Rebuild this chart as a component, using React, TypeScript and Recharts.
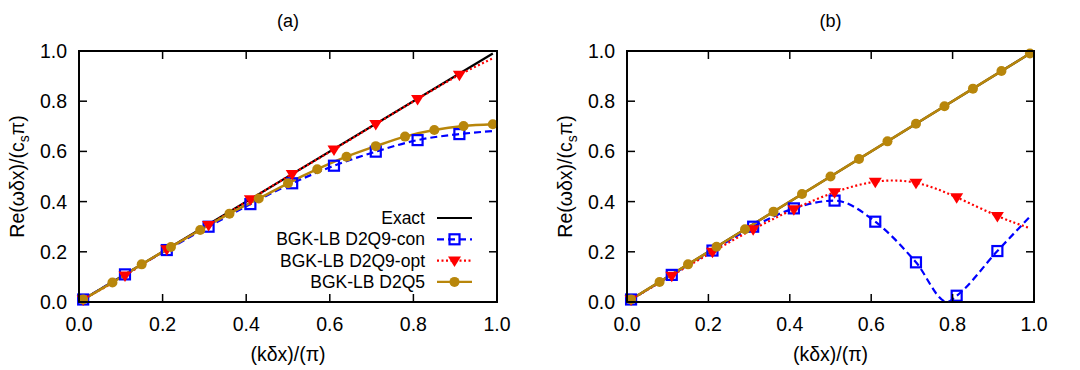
import {
  LineChart,
  Line,
  XAxis,
  YAxis,
  ReferenceArea,
  Legend,
} from "recharts";

// x positions where the markers sit
const conOptX = [0.01, 0.11, 0.21, 0.31, 0.41, 0.51, 0.61, 0.71, 0.81, 0.91];
const d2q5X = [0.01, 0.08, 0.15, 0.22, 0.29, 0.36, 0.43, 0.5, 0.57, 0.64, 0.71, 0.78, 0.85, 0.92, 0.99];
const axisTicks = [0, 0.2, 0.4, 0.6, 0.8, 1.0];

// exact dispersion
const exactX = [0.0, 0.99];
const exactY = [0.0, 0.99];

// panel (a)
const aConY = [0.01, 0.11, 0.207, 0.3, 0.39, 0.473, 0.543, 0.599, 0.645, 0.669];
const aConEnd = [0.99, 0.681];
const aOptY = [0.01, 0.106, 0.21, 0.307, 0.409, 0.51, 0.608, 0.709, 0.809, 0.905];
const aOptEnd = [0.99, 0.971];
const aD2q5Y = [0.01, 0.078, 0.15, 0.219, 0.287, 0.352, 0.412, 0.473, 0.529, 0.579, 0.621, 0.659, 0.685, 0.701, 0.708];

// panel (b)
const bConY = [0.01, 0.108, 0.205, 0.3, 0.373, 0.404, 0.32, 0.158, 0.025, 0.203];
const bConZero = [0.787, 0.0];
const bConEnd = [0.99, 0.34];
const bOptY = [0.01, 0.105, 0.2, 0.29, 0.37, 0.437, 0.479, 0.475, 0.417, 0.343];
const bOptEnd = [0.99, 0.294];
const bD2q5Y = [0.01, 0.08, 0.15, 0.22, 0.29, 0.36, 0.43, 0.5, 0.57, 0.64, 0.71, 0.78, 0.85, 0.92, 0.99];

const FONT = '"Liberation Sans", Arial, Helvetica, sans-serif';
const BLUE = "#0000ff";
const RED = "#ff0000";
const GOLD = "#b8860b";

type Pt = { x: number; y: number; m: boolean };

const marked = (xs: number[], ys: number[]): Pt[] => xs.map((x, i) => ({ x, y: ys[i], m: true }));
const extra = (p: number[]): Pt => ({ x: p[0], y: p[1], m: false });
const byX = (pts: Pt[]) => pts.slice().sort((a, b) => a.x - b.x);

const exactData = exactX.map((x, i) => ({ x, y: exactY[i], m: false }));
const aCon = byX([...marked(conOptX, aConY), extra(aConEnd)]);
const aOpt = byX([...marked(conOptX, aOptY), extra(aOptEnd)]);
const aD2q5 = marked(d2q5X, aD2q5Y);
const bCon = byX([...marked(conOptX, bConY), extra(bConZero), extra(bConEnd)]);
const bOpt = byX([...marked(conOptX, bOptY), extra(bOptEnd)]);
const bD2q5 = marked(d2q5X, bD2q5Y);

const PT = 51; // plot top
const PB = 302; // plot bottom
const TICK = 8;

const square = (cx: number, cy: number, key?: any) => (
  <rect key={key} x={cx - 5} y={cy - 5} width={10} height={10} fill="none" stroke={BLUE} strokeWidth={2.2} />
);
const triangle = (cx: number, cy: number, key?: any) => (
  <path key={key} d={`M${cx - 6.5},${cy - 4} L${cx + 6.5},${cy - 4} L${cx},${cy + 6.5} Z`} fill={RED} />
);
const circle = (cx: number, cy: number, key?: any) => (
  <circle key={key} cx={cx} cy={cy} r={5} fill={GOLD} />
);

const dotWith = (shape: (cx: number, cy: number, key?: any) => any) => (p: any) =>
  p.payload && p.payload.m ? shape(p.cx, p.cy, `d${p.index}`) : <g key={`d${p.index}`} />;

// stable renderers, created once
const conDot = dotWith(square);
const optDot = dotWith(triangle);
const d2q5Dot = dotWith(circle);

function Legendbox() {
  const rows = [
    { label: "Exact", color: "black", dash: undefined as string | undefined, mark: null as any },
    { label: "BGK-LB D2Q9-con", color: BLUE, dash: "7 4", mark: square },
    { label: "BGK-LB D2Q9-opt", color: RED, dash: "2 2.5", mark: triangle },
    { label: "BGK-LB D2Q5", color: GOLD, dash: undefined, mark: circle },
  ];
  return (
    <svg width={280} height={92} style={{ display: "block", overflow: "visible" }}>
      {rows.map((r, i) => {
        const cy = 13 + i * 21.3;
        return (
          <g key={r.label}>
            <text x={225} y={cy + 6} textAnchor="end" fontFamily={FONT} fontSize={17.5} fill="black">
              {r.label}
            </text>
            <line x1={237} x2={272} y1={cy} y2={cy} stroke={r.color} strokeWidth={2.2} strokeDasharray={r.dash} />
            {r.mark ? r.mark(254.5, cy) : null}
          </g>
        );
      })}
    </svg>
  );
}
const legendContent = () => <Legendbox />;
const legendStyle = { position: "absolute" as const, left: 200, top: 205, width: 280, height: 92 };

const xTick = ({ x, y, payload }: any) => (
  <g>
    <line x1={x} x2={x} y1={y} y2={y - TICK} stroke="black" strokeWidth={1.5} />
    <line x1={x} x2={x} y1={PT} y2={PT + TICK} stroke="black" strokeWidth={1.5} />
    <text x={x} y={y + 29} textAnchor="middle" fontFamily={FONT} fontSize={19.5} fill="black">
      {Number(payload.value).toFixed(1)}
    </text>
  </g>
);

const makeYTick = (plotRight: number) => ({ x, y, payload }: any) => (
  <g>
    <line x1={x} x2={x + TICK} y1={y} y2={y} stroke="black" strokeWidth={1.5} />
    <line x1={plotRight} x2={plotRight - TICK} y1={y} y2={y} stroke="black" strokeWidth={1.5} />
    <text x={x - 12} y={y + 7} textAnchor="end" fontFamily={FONT} fontSize={19.5} fill="black">
      {Number(payload.value).toFixed(1)}
    </text>
  </g>
);

const makeYLabel = (left: number) => () => {
  const cx = left - 62;
  const cy = (PT + PB) / 2;
  return (
    <text x={cx} y={cy + 7} transform={`rotate(-90, ${cx}, ${cy})`} textAnchor="middle" fontFamily={FONT} fontSize={19.5} fill="black">
      <tspan>Re(ωδx)/(c</tspan>
      <tspan dy={5} fontSize={14}>s</tspan>
      <tspan dy={-5}>π)</tspan>
    </text>
  );
};

const makeXLabel = (cx: number) => () => (
  <text x={cx} y={361} textAnchor="middle" fontFamily={FONT} fontSize={19.5} fill="black">
    (kδx)/(π)
  </text>
);

const panels = [
  { title: "(a)", left: 79, right: 43, con: aCon, opt: aOpt, d2q5: aD2q5, optCurve: "monotone" as const, legend: true },
  { title: "(b)", left: 87, right: 46, con: bCon, opt: bOpt, d2q5: bD2q5, optCurve: "natural" as const, legend: false },
].map((p) => {
  const plotRight = 540 - p.right;
  return {
    ...p,
    plotRight,
    yTick: makeYTick(plotRight),
    yLabel: makeYLabel(p.left),
    xLabel: makeXLabel((p.left + plotRight) / 2),
    margin: { top: PT, right: p.right, bottom: 0, left: 0 },
  };
});

function Panel({ p }: { p: (typeof panels)[number] }) {
  const w = p.plotRight - p.left;
  const h = PB - PT;
  return (
    <div style={{ position: "relative", width: 540, height: 370 }}>
      <LineChart width={540} height={370} margin={p.margin}>
        <XAxis
          dataKey="x"
          type="number"
          domain={[0, 1]}
          ticks={axisTicks}
          height={370 - PB}
          axisLine={false}
          tickLine={false}
          tickSize={0}
          tickMargin={0}
          tick={xTick}
          label={p.xLabel}
        />
        <YAxis
          type="number"
          domain={[0, 1]}
          ticks={axisTicks}
          width={p.left}
          axisLine={false}
          tickLine={false}
          tickSize={0}
          tickMargin={0}
          tick={p.yTick}
          label={p.yLabel}
        />
        <Line data={exactData} dataKey="y" stroke="black" strokeWidth={2.2} dot={false} activeDot={false} isAnimationActive={false} name="Exact" />
        <Line
          data={p.con}
          dataKey="y"
          type="monotone"
          stroke={BLUE}
          strokeWidth={2.2}
          strokeDasharray="7 4"
          dot={conDot}
          activeDot={false}
          isAnimationActive={false}
          name="BGK-LB D2Q9-con"
        />
        <Line
          data={p.opt}
          dataKey="y"
          type={p.optCurve}
          stroke={RED}
          strokeWidth={2.2}
          strokeDasharray="2 2.5"
          dot={optDot}
          activeDot={false}
          isAnimationActive={false}
          name="BGK-LB D2Q9-opt"
        />
        <Line
          data={p.d2q5}
          dataKey="y"
          type="monotone"
          stroke={GOLD}
          strokeWidth={2.5}
          dot={d2q5Dot}
          activeDot={false}
          isAnimationActive={false}
          name="BGK-LB D2Q5"
        />
        <ReferenceArea x1={0} x2={1} y1={0} y2={1} fill="none" stroke="black" strokeWidth={1.8} />
        <text x={(p.left + p.plotRight) / 2} y={27} textAnchor="middle" fontFamily={FONT} fontSize={18} fill="black">
          {p.title}
        </text>
        {p.legend ? (
          <Legend layout="vertical" align="center" verticalAlign="middle" content={legendContent} wrapperStyle={legendStyle} />
        ) : null}
      </LineChart>
      <svg width={540} height={370} style={{ position: "absolute", left: 0, top: 0, pointerEvents: "none", zIndex: 5 }}>
        <rect x={p.left} y={PT} width={w} height={h} fill="none" stroke="black" strokeWidth={1.8} />
      </svg>
    </div>
  );
}

export default function App() {
  return (
    <div style={{ position: "absolute", top: 0, left: 0, width: 1080, height: 370, background: "#fff", display: "flex" }}>
      {panels.map((p) => (
        <Panel key={p.title} p={p} />
      ))}
    </div>
  );
}
